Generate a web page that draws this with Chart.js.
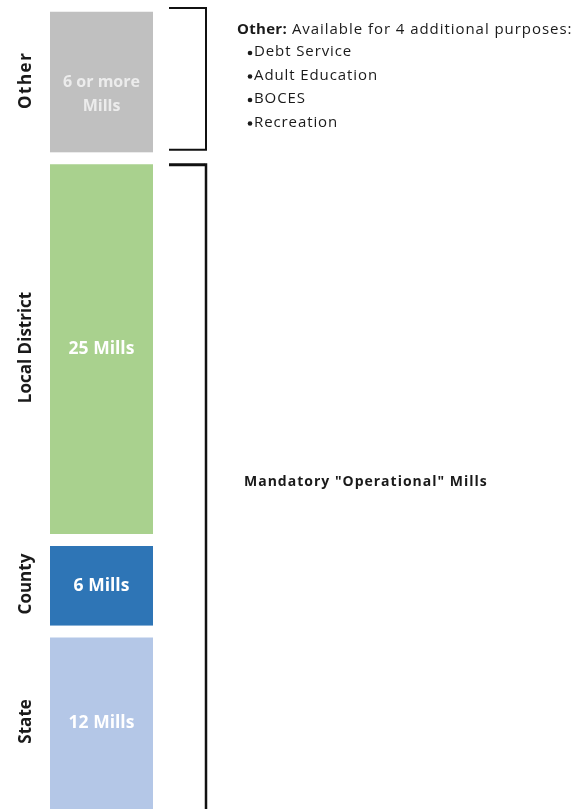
<!DOCTYPE html>
<html>
<head>
<meta charset="utf-8">
<script src="https://cdn.jsdelivr.net/npm/chart.js@4/dist/chart.umd.min.js"></script>
<style>
  html, body { margin: 0; padding: 0; background: #fff; overflow: hidden; }
  #wrap { position: relative; width: 582px; height: 809px; }
</style>
</head>
<body>
<div id="wrap"><canvas id="c"></canvas></div>
<script>
// Mill levy components, stacked from the bottom up
const categories = ['State', 'County', 'Local District', 'Other'];
const mills = [12, 6, 25, 10];
const valueLabels = [['12 Mills'], ['6 Mills'], ['25 Mills'], ['6 or more', 'Mills']];
const segmentColors = ['#b4c7e7', '#2e75b6', '#a9d18e', '#c0c0c0'];
const valueTextColors = ['#ffffff', '#ffffff', '#ffffff', '#ececec'];

// Notes shown beside the bar
const otherHeading = 'Other:';
const otherText = ' Available for 4 additional purposes:';
const otherPurposes = ['Debt Service', 'Adult Education', 'BOCES', 'Recreation'];
const operationalNote = 'Mandatory "Operational" Mills';

const FONT = '"Open Sans", "DejaVu Sans", sans-serif';

const annotations = {
  id: 'annotations',
  afterDatasetsDraw(chart) {
    const ctx = chart.ctx;
    const y = chart.scales.y;
    ctx.save();

    // value labels inside each segment, and rotated category names on the left
    chart.data.datasets.forEach((ds, i) => {
      const bar = chart.getDatasetMeta(i).data[0];
      const top = bar.y + 12;
      const bottom = Math.min(bar.base, chart.height);
      const mid = (top + bottom) / 2;
      const lines = valueLabels[i];
      ctx.fillStyle = valueTextColors[i];
      ctx.font = 'bold ' + (lines.length > 1 ? 16 : 17.5) + 'px ' + FONT;
      ctx.textAlign = 'center';
      ctx.textBaseline = 'middle';
      lines.forEach((t, k) => ctx.fillText(t, bar.x, mid + k * 24));

      ctx.save();
      ctx.translate(26, mid - 2);
      ctx.rotate(-Math.PI / 2);
      ctx.fillStyle = '#1a1a1a';
      ctx.font = 'bold 17px ' + FONT;
      if (i === 3) ctx.letterSpacing = '1.5px';
      ctx.fillText(categories[i], 0, 0);
      ctx.restore();
    });

    // brackets grouping the segments
    const total = mills.reduce((a, b) => a + b, 0);
    const opTop = mills[0] + mills[1] + mills[2];
    const bx0 = 169, bx1 = 206;
    ctx.strokeStyle = '#111';
    ctx.lineWidth = 2;
    const t1 = y.getPixelForValue(total) + 8;
    const b1 = y.getPixelForValue(opTop) - 3;
    ctx.beginPath();
    ctx.moveTo(bx0, t1); ctx.lineTo(bx1, t1); ctx.lineTo(bx1, b1); ctx.lineTo(bx0, b1);
    ctx.stroke();
    const t2 = y.getPixelForValue(opTop) + 12;
    const b2 = y.getPixelForValue(0) + 5;
    ctx.lineWidth = 3;
    ctx.beginPath();
    ctx.moveTo(bx0, t2); ctx.lineTo(bx1 - 1, t2);
    ctx.stroke();
    ctx.lineWidth = 2.5;
    ctx.beginPath();
    ctx.moveTo(bx1, t2 - 1.5); ctx.lineTo(bx1, b2);
    ctx.stroke();

    // notes
    ctx.textAlign = 'left';
    ctx.textBaseline = 'middle';
    ctx.fillStyle = '#1a1a1a';
    ctx.letterSpacing = '0.3px';
    ctx.font = 'bold 15px ' + FONT;
    ctx.fillText(otherHeading, 237, 30);
    const hw = ctx.measureText(otherHeading).width;
    ctx.letterSpacing = '0.95px';
    ctx.font = '15px ' + FONT;
    ctx.fillText(otherText, 237 + hw, 30);
    otherPurposes.forEach((p, k) => {
      const ly = 52 + k * 23.5;
      ctx.beginPath();
      ctx.arc(250, ly + 1, 2.3, 0, Math.PI * 2);
      ctx.fill();
      ctx.letterSpacing = '0.9px';
      ctx.fillText(p, 254, ly);
    });
    ctx.letterSpacing = '1px';
    ctx.font = 'bold 14px ' + FONT;
    ctx.fillText(operationalNote, 244, 482);

    ctx.restore();
  }
};

new Chart(document.getElementById('c'), {
  type: 'bar',
  data: {
    labels: [''],
    datasets: categories.map((name, i) => ({
      label: name,
      data: [mills[i]],
      backgroundColor: segmentColors[i],
      borderColor: '#ffffff',
      borderWidth: { top: 12, right: 0, bottom: 0, left: 0 },
      borderSkipped: false,
      barThickness: 103
    }))
  },
  options: {
    responsive: true,
    maintainAspectRatio: false,
    animation: false,
    layout: { padding: { left: 0, right: 379, top: 0, bottom: 0 } },
    plugins: { legend: { display: false }, tooltip: { enabled: false } },
    scales: {
      x: { stacked: true, display: false },
      y: { stacked: true, display: false, min: 0, max: 53 }
    }
  },
  plugins: [annotations]
});
</script>
</body>
</html>
